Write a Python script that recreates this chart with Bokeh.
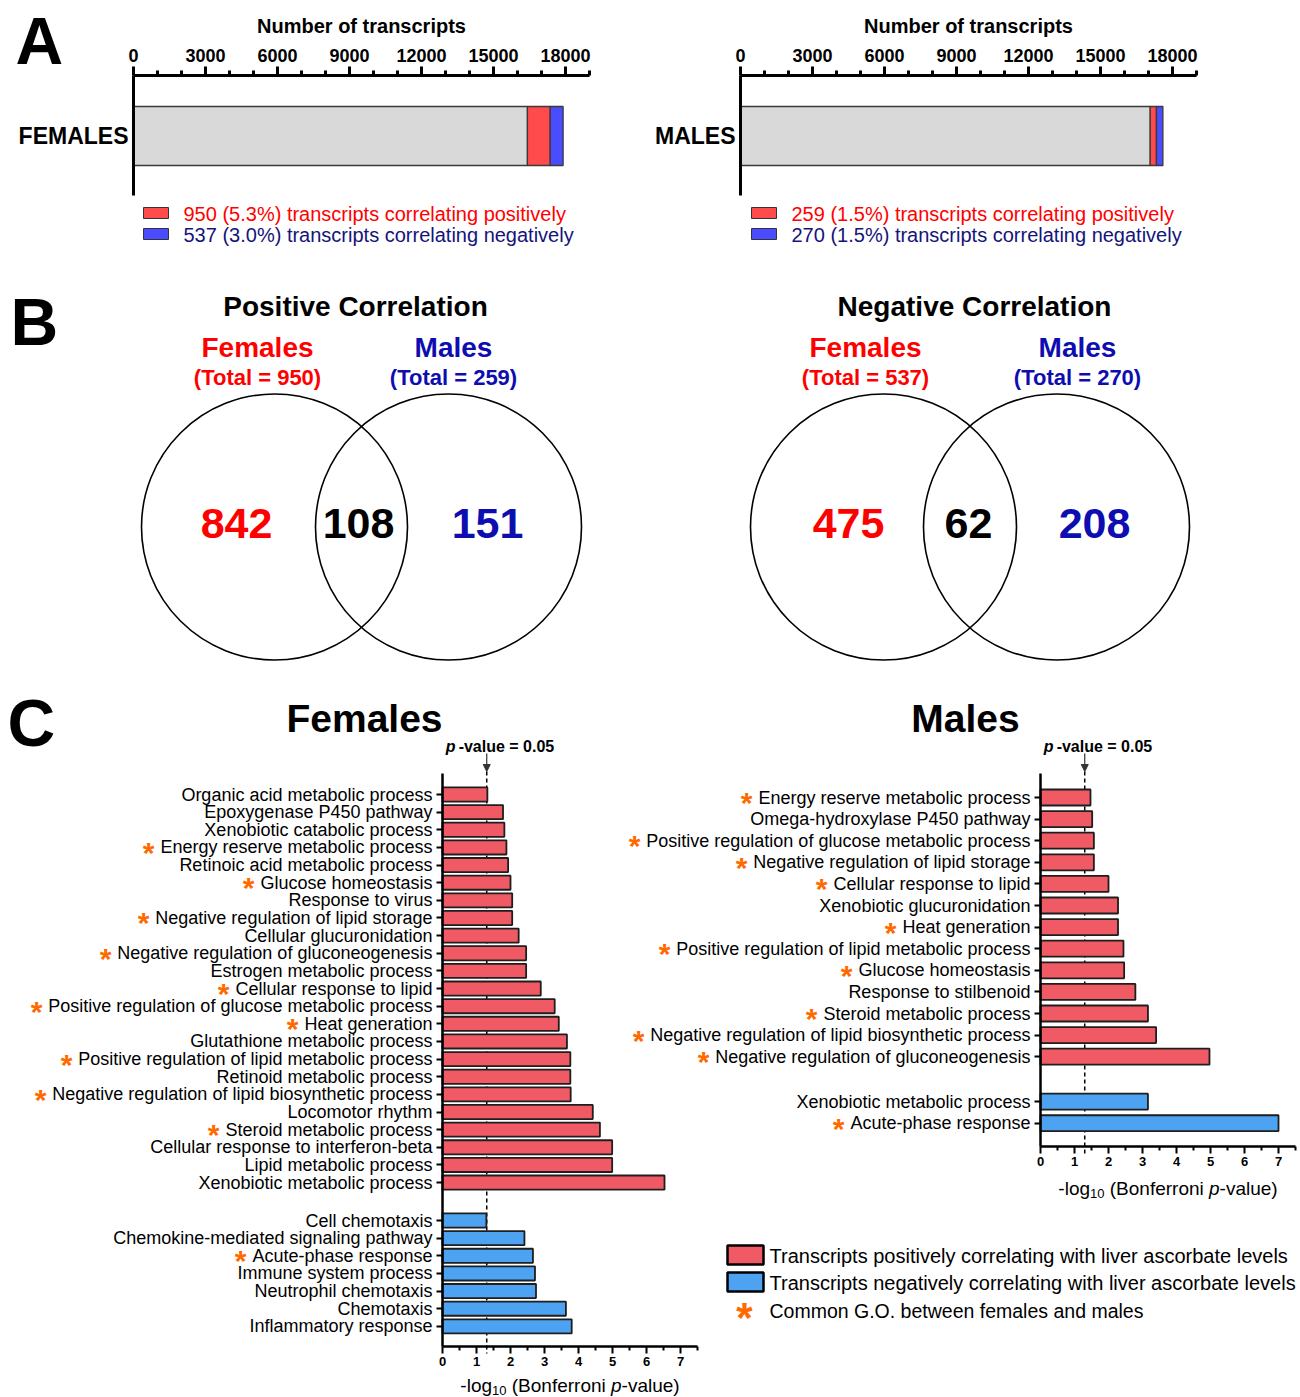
import math
from bokeh.plotting import figure
from bokeh.models import Range1d, LinearAxis, FixedTicker, Arrow, NormalHead
from bokeh.embed import file_html
from bokeh.resources import INLINE
from bokeh.core.properties import value

# ---------------- DATA ----------------
# Panel A
sexes = ["FEMALES", "MALES"]
total_transcripts = [17900, 17600]
positive_transcripts = [950, 259]
negative_transcripts = [537, 270]
count_major_ticks = [0, 3000, 6000, 9000, 12000, 15000, 18000]
count_minor_ticks = [1000, 2000, 4000, 5000, 7000, 8000, 10000, 11000, 13000, 14000,
                     16000, 17000, 19000]
count_axis_max = 19000

# Panel B  (females only, shared, males only)
venn_positive = [842, 108, 151]
venn_negative = [475, 62, 208]

# Panel C
fem_pos_terms = [
    "Organic acid metabolic process", "Epoxygenase P450 pathway", "Xenobiotic catabolic process",
    "Energy reserve metabolic process", "Retinoic acid metabolic process", "Glucose homeostasis",
    "Response to virus", "Negative regulation of lipid storage", "Cellular glucuronidation",
    "Negative regulation of gluconeogenesis", "Estrogen metabolic process",
    "Cellular response to lipid", "Positive regulation of glucose metabolic process",
    "Heat generation", "Glutathione metabolic process",
    "Positive regulation of lipid metabolic process", "Retinoid metabolic process",
    "Negative regulation of lipid biosynthetic process", "Locomotor rhythm",
    "Steroid metabolic process", "Cellular response to interferon-beta",
    "Lipid metabolic process", "Xenobiotic metabolic process"]
fem_pos_values = [1.32, 1.78, 1.82, 1.88, 1.93, 2.00, 2.05, 2.05, 2.24, 2.46, 2.46, 2.89,
                  3.30, 3.42, 3.66, 3.76, 3.76, 3.77, 4.42, 4.63, 4.99, 4.99, 6.53]
fem_pos_common = [0, 0, 0, 1, 0, 1, 0, 1, 0, 1, 0, 1, 1, 1, 0, 1, 0, 1, 0, 1, 0, 0, 0]
fem_neg_terms = ["Cell chemotaxis", "Chemokine-mediated signaling pathway",
                 "Acute-phase response", "Immune system process", "Neutrophil chemotaxis",
                 "Chemotaxis", "Inflammatory response"]
fem_neg_values = [1.29, 2.41, 2.66, 2.72, 2.75, 3.63, 3.80]
fem_neg_common = [0, 0, 1, 0, 0, 0, 0]

male_pos_terms = [
    "Energy reserve metabolic process", "Omega-hydroxylase P450 pathway",
    "Positive regulation of glucose metabolic process", "Negative regulation of lipid storage",
    "Cellular response to lipid", "Xenobiotic glucuronidation", "Heat generation",
    "Positive regulation of lipid metabolic process", "Glucose homeostasis",
    "Response to stilbenoid", "Steroid metabolic process",
    "Negative regulation of lipid biosynthetic process",
    "Negative regulation of gluconeogenesis"]
male_pos_values = [1.47, 1.52, 1.57, 1.57, 2.00, 2.28, 2.28, 2.44, 2.46, 2.79, 3.16, 3.40, 4.97]
male_pos_common = [1, 0, 1, 1, 1, 0, 1, 1, 1, 0, 1, 1, 1]
male_neg_terms = ["Xenobiotic metabolic process", "Acute-phase response"]
male_neg_values = [3.16, 7.00]
male_neg_common = [0, 1]

p_value_threshold = 0.05
go_major_ticks = [0, 1, 2, 3, 4, 5, 6, 7]
go_minor_ticks = [0.5, 1.5, 2.5, 3.5, 4.5, 5.5, 6.5, 7.5]
go_axis_max = 7.5

# ---------------- STYLE ----------------
FONT = "Liberation Sans"
A_GRAY, A_RED, A_BLUE = "#D9D9D9", "#FF4B4B", "#4B4BFF"
C_RED, C_BLUE = "#F05A64", "#4DA3F2"
TXT_RED, TXT_NAVY, TXT_BLUE = "#FF0000", "#14147A", "#0D0DB0"
ORANGE = "#FF6A00"

# Arial / Liberation Sans advance widths (1/1000 em)
_CW = {' ': 278, '-': 333, '(': 333, ')': 333, '.': 278, ',': 278, '%': 889, '=': 584, '*': 389}
for _c in "0123456789":
    _CW[_c] = 556
_CW.update(dict(A=667, B=667, C=722, D=722, E=667, F=611, G=778, H=722, I=278, J=500, K=667,
                L=556, M=833, N=722, O=778, P=667, Q=778, R=722, S=667, T=611, U=722, V=667,
                W=944, X=667, Y=667, Z=611))
_CW.update(dict(a=556, b=556, c=500, d=556, e=556, f=278, g=556, h=556, i=222, j=222, k=500,
                l=222, m=833, n=556, o=556, p=556, q=556, r=333, s=500, t=278, u=556, v=500,
                w=722, x=500, y=500, z=500))


def text_w(s, size):
    return sum(_CW.get(ch, 556) for ch in s) * size / 1000.0


W, H = 1300, 1397
OX, OY = 0, 0


def xrange_for(px0, k):
    return Range1d(start=(OX - px0) / k, end=(OX + W - px0) / k)


def yrange_for(py0, k):
    return Range1d(start=(OY + H - py0) / k, end=(OY - py0) / k)


p = figure(width=W, height=H, x_range=Range1d(OX, OX + W), y_range=Range1d(OY + H, OY),
           x_axis_type=None, y_axis_type=None, toolbar_location=None,
           output_backend="svg", min_border=0, outline_line_color=None,
           background_fill_color="white", border_fill_color="white")

# layout constants
A_axis_x = [133, 740]
A_axis_y = 75
A_px_per_count = 0.024
A_bar_center, A_bar_px = 135.5, 59
A_legend_x = [143, 751]

GO = [
    dict(name="f", title="Females", title_x=364, axis_px=442, row0=794, row_px=17.64, gap=2.15,
         bar_h=80, axis_top=773, axis_bot=1346, xtitle_y=1385,
         pos=(fem_pos_terms, fem_pos_values, fem_pos_common),
         neg=(fem_neg_terms, fem_neg_values, fem_neg_common)),
    dict(name="m", title="Males", title_x=965, axis_px=1040, row0=797, row_px=21.6, gap=2.08,
         bar_h=74, axis_top=773, axis_bot=1146, xtitle_y=1188,
         pos=(male_pos_terms, male_pos_values, male_pos_common),
         neg=(male_neg_terms, male_neg_values, male_neg_common)),
]
GO_PX_PER_UNIT = 34.0

extra_x = {}
extra_y = {"ay": yrange_for(A_bar_center, A_bar_px)}
for gi in range(2):
    extra_x[f"ax{gi}"] = xrange_for(A_axis_x[gi], A_px_per_count)
for g in GO:
    extra_x[g["name"] + "x"] = xrange_for(g["axis_px"], GO_PX_PER_UNIT)
    extra_y[g["name"] + "y"] = yrange_for(g["row0"], g["row_px"] / 100.0)
p.extra_x_ranges = extra_x
p.extra_y_ranges = extra_y


def put_text(x, y, s, size, color="black", style="normal", align="left", baseline="middle",
             xr="default", yr="default"):
    p.text(x=[x], y=[y], text=[s], text_font=value(FONT), text_font_size=value(f"{size}px"),
           text_font_style=style, text_color=color, text_align=align, text_baseline=baseline,
           x_range_name=xr, y_range_name=yr)


# ---------------- PANEL LETTERS ----------------
put_text(15, 40, "A", 66, style="bold")
put_text(10, 321, "B", 66, style="bold")
put_text(7, 722, "C", 66, style="bold")

# ---------------- PANEL A ----------------
for gi, sex in enumerate(sexes):
    xr = f"ax{gi}"
    tot, pos, neg = total_transcripts[gi], positive_transcripts[gi], negative_transcripts[gi]
    rest = tot - pos - neg
    p.hbar(y=[0, 0, 0], left=[0, rest, rest + pos], right=[rest, rest + pos, tot], height=1.0,
           fill_color=[A_GRAY, A_RED, A_BLUE], line_color="#3a3a3a", line_width=1.3,
           x_range_name=xr, y_range_name="ay")

    ax = LinearAxis(x_range_name=xr, fixed_location=A_axis_y,
                    ticker=FixedTicker(ticks=count_major_ticks, minor_ticks=count_minor_ticks),
                    bounds=(0, count_axis_max), axis_label="Number of transcripts")
    ax.axis_line_width = 3
    ax.major_tick_line_width = 3
    ax.minor_tick_line_width = 3
    ax.major_tick_out = 9
    ax.major_tick_in = 0
    ax.minor_tick_out = 5
    ax.minor_tick_in = 0
    ax.major_label_text_font = FONT
    ax.major_label_text_font_size = "18px"
    ax.major_label_text_font_style = "bold"
    ax.major_label_text_color = "black"
    ax.major_label_standoff = 5
    ax.axis_label_text_font = FONT
    ax.axis_label_text_font_size = "20px"
    ax.axis_label_text_font_style = "bold"
    ax.axis_label_text_color = "black"
    ax.axis_label_standoff = 9
    p.add_layout(ax, "above")

    ay = LinearAxis(y_range_name="ay", fixed_location=A_axis_x[gi],
                    ticker=FixedTicker(ticks=[0], minor_ticks=[]),
                    major_label_overrides={0: sex},
                    bounds=((75 - A_bar_center) / A_bar_px, (195 - A_bar_center) / A_bar_px))
    ay.axis_line_width = 3
    ay.major_tick_out = 0
    ay.major_tick_in = 0
    ay.minor_tick_out = 0
    ay.minor_tick_in = 0
    ay.major_label_text_font = FONT
    ay.major_label_text_font_size = "23px"
    ay.major_label_text_font_style = "bold"
    ay.major_label_text_color = "black"
    ay.major_label_standoff = 5
    p.add_layout(ay, "left")

    bx = A_legend_x[gi]
    p.quad(left=[bx, bx], right=[bx + 25, bx + 25], top=[207, 228], bottom=[218, 239],
           fill_color=[A_RED, A_BLUE], line_color="#333333", line_width=1)
    put_text(bx + 40, 213, f"{pos} ({100.0 * pos / tot:.1f}%) transcripts correlating positively",
             20, color=TXT_RED)
    put_text(bx + 40, 234, f"{neg} ({100.0 * neg / tot:.1f}%) transcripts correlating negatively",
             20, color=TXT_NAVY)

# ---------------- PANEL B ----------------
VENN = [
    dict(title="Positive Correlation", counts=venn_positive, cx=[274, 448], title_x=355,
         fem_x=257, male_x=453, num_x=[236, 358, 487]),
    dict(title="Negative Correlation", counts=venn_negative, cx=[883, 1056], title_x=974,
         fem_x=865, male_x=1077, num_x=[848, 968, 1094]),
]
for v in VENN:
    fo, sh, mo = v["counts"]
    put_text(v["title_x"], 306, v["title"], 28, style="bold", align="center")
    put_text(v["fem_x"], 347, "Females", 28, color=TXT_RED, style="bold", align="center")
    put_text(v["fem_x"], 377, f"(Total = {fo + sh})", 22, color=TXT_RED, style="bold",
             align="center")
    put_text(v["male_x"], 347, "Males", 28, color=TXT_BLUE, style="bold", align="center")
    put_text(v["male_x"], 377, f"(Total = {sh + mo})", 22, color=TXT_BLUE, style="bold",
             align="center")
    p.circle(x=v["cx"], y=[526.5, 526.5], radius=133, fill_color=None, line_color="black",
             line_width=1.6)
    for k, (n, col) in enumerate(zip(v["counts"], [TXT_RED, "black", TXT_BLUE])):
        put_text(v["num_x"][k], 523, str(n), 43, color=col, style="bold", align="center")

# ---------------- PANEL C ----------------
thr = -math.log10(p_value_threshold)
for g in GO:
    xr, yr = g["name"] + "x", g["name"] + "y"
    upx = g["row_px"] / 100.0
    pos_terms, pos_vals, pos_com = g["pos"]
    neg_terms, neg_vals, neg_com = g["neg"]
    n = len(pos_terms)
    pos_slots = [100 * i for i in range(n)]
    neg_slots = [int(round(100 * (n - 1 + g["gap"]))) + 100 * j for j in range(len(neg_terms))]

    put_text(g["title_x"], 718, g["title"], 39, style="bold", align="center")

    # threshold dashed line + annotation
    p.segment(x0=[thr], y0=[771], x1=[thr], y1=[g["axis_bot"] + 7], x_range_name=xr,
              line_color="black", line_width=1.5, line_dash="4 3")
    thr_px = g["axis_px"] + GO_PX_PER_UNIT * thr
    put_text(thr_px - 41, 746, "p", 16, style="bold italic")
    put_text(thr_px - 41 + text_w("p", 16) + 4, 746, f"-value = {p_value_threshold}", 16,
             style="bold")
    p.add_layout(Arrow(x_start=thr, y_start=753, x_end=thr, y_end=771, x_range_name=xr,
                       line_color="#333333", line_width=1.2,
                       end=NormalHead(size=7, fill_color="#333333", line_color="#333333")))

    # bars
    p.hbar(y=pos_slots, left=0, right=pos_vals, height=g["bar_h"], fill_color=C_RED,
           line_color="#1e1e1e", line_width=1.8, x_range_name=xr, y_range_name=yr)
    p.hbar(y=neg_slots, left=0, right=neg_vals, height=g["bar_h"], fill_color=C_BLUE,
           line_color="#1e1e1e", line_width=1.8, x_range_name=xr, y_range_name=yr)

    # y axis with GO terms
    ticks = pos_slots + neg_slots
    terms = pos_terms + neg_terms
    yax = LinearAxis(y_range_name=yr, fixed_location=g["axis_px"],
                     ticker=FixedTicker(ticks=ticks, minor_ticks=[]),
                     major_label_overrides={t: s for t, s in zip(ticks, terms)},
                     bounds=((g["axis_top"] - g["row0"]) / upx, (g["axis_bot"] - g["row0"]) / upx))
    yax.axis_line_width = 2.5
    yax.major_tick_line_width = 2
    yax.major_tick_out = 6
    yax.major_tick_in = 0
    yax.minor_tick_out = 0
    yax.minor_tick_in = 0
    yax.major_label_text_font = FONT
    yax.major_label_text_font_size = "18px"
    yax.major_label_text_color = "black"
    yax.major_label_standoff = 4
    p.add_layout(yax, "left")

    # orange asterisks for common G.O. terms
    label_right = g["axis_px"] - 6 - 4
    for t, s, c in zip(ticks, terms, pos_com + neg_com):
        if c:
            put_text(label_right - text_w(s, 18) - 6, t + 5.0 / upx, "*", 30, color=ORANGE,
                     style="bold", align="right", yr=yr)

    # x axis
    xax = LinearAxis(x_range_name=xr, fixed_location=g["axis_bot"],
                     ticker=FixedTicker(ticks=go_major_ticks, minor_ticks=go_minor_ticks),
                     bounds=(0, go_axis_max))
    xax.axis_line_width = 2.5
    xax.major_tick_line_width = 2
    xax.minor_tick_line_width = 2
    xax.major_tick_out = 7
    xax.major_tick_in = 0
    xax.minor_tick_out = 4
    xax.minor_tick_in = 0
    xax.major_label_text_font = FONT
    xax.major_label_text_font_size = "13px"
    xax.major_label_text_font_style = "bold"
    xax.major_label_text_color = "black"
    xax.major_label_standoff = 3
    p.add_layout(xax, "below")

    # x axis title: -log10 (Bonferroni p-value)
    cx = g["axis_px"] + GO_PX_PER_UNIT * go_axis_max / 2.0
    sp = text_w(" ", 19)
    parts = [("-log", 19, "normal", 0, 0.0), ("10", 13, "normal", 5, sp),
             ("(Bonferroni", 19, "normal", 0, sp), ("p", 19, "italic", 0, 0.0),
             ("-value)", 19, "normal", 0, 0.0)]
    total = sum(text_w(s, sz) + gap for s, sz, _, _, gap in parts)
    x = cx - total / 2.0
    for s, sz, st, dy, gap in parts:
        put_text(x, g["xtitle_y"] + dy, s, sz, style=st)
        x += text_w(s, sz) + gap

# legend for panel C
p.quad(left=[727, 727], right=[763, 763], top=[1245, 1272], bottom=[1264, 1291],
       fill_color=[C_RED, C_BLUE], line_color="black", line_width=2.5)
put_text(769, 1255, "Transcripts positively correlating with liver ascorbate levels", 20)
put_text(769, 1282, "Transcripts negatively correlating with liver ascorbate levels", 20)
put_text(744, 1317, "*", 42, color=ORANGE, style="bold", align="center")
put_text(769, 1310, "Common G.O. between females and males", 19.5)

open("out.html", "w").write(file_html(p, INLINE))
